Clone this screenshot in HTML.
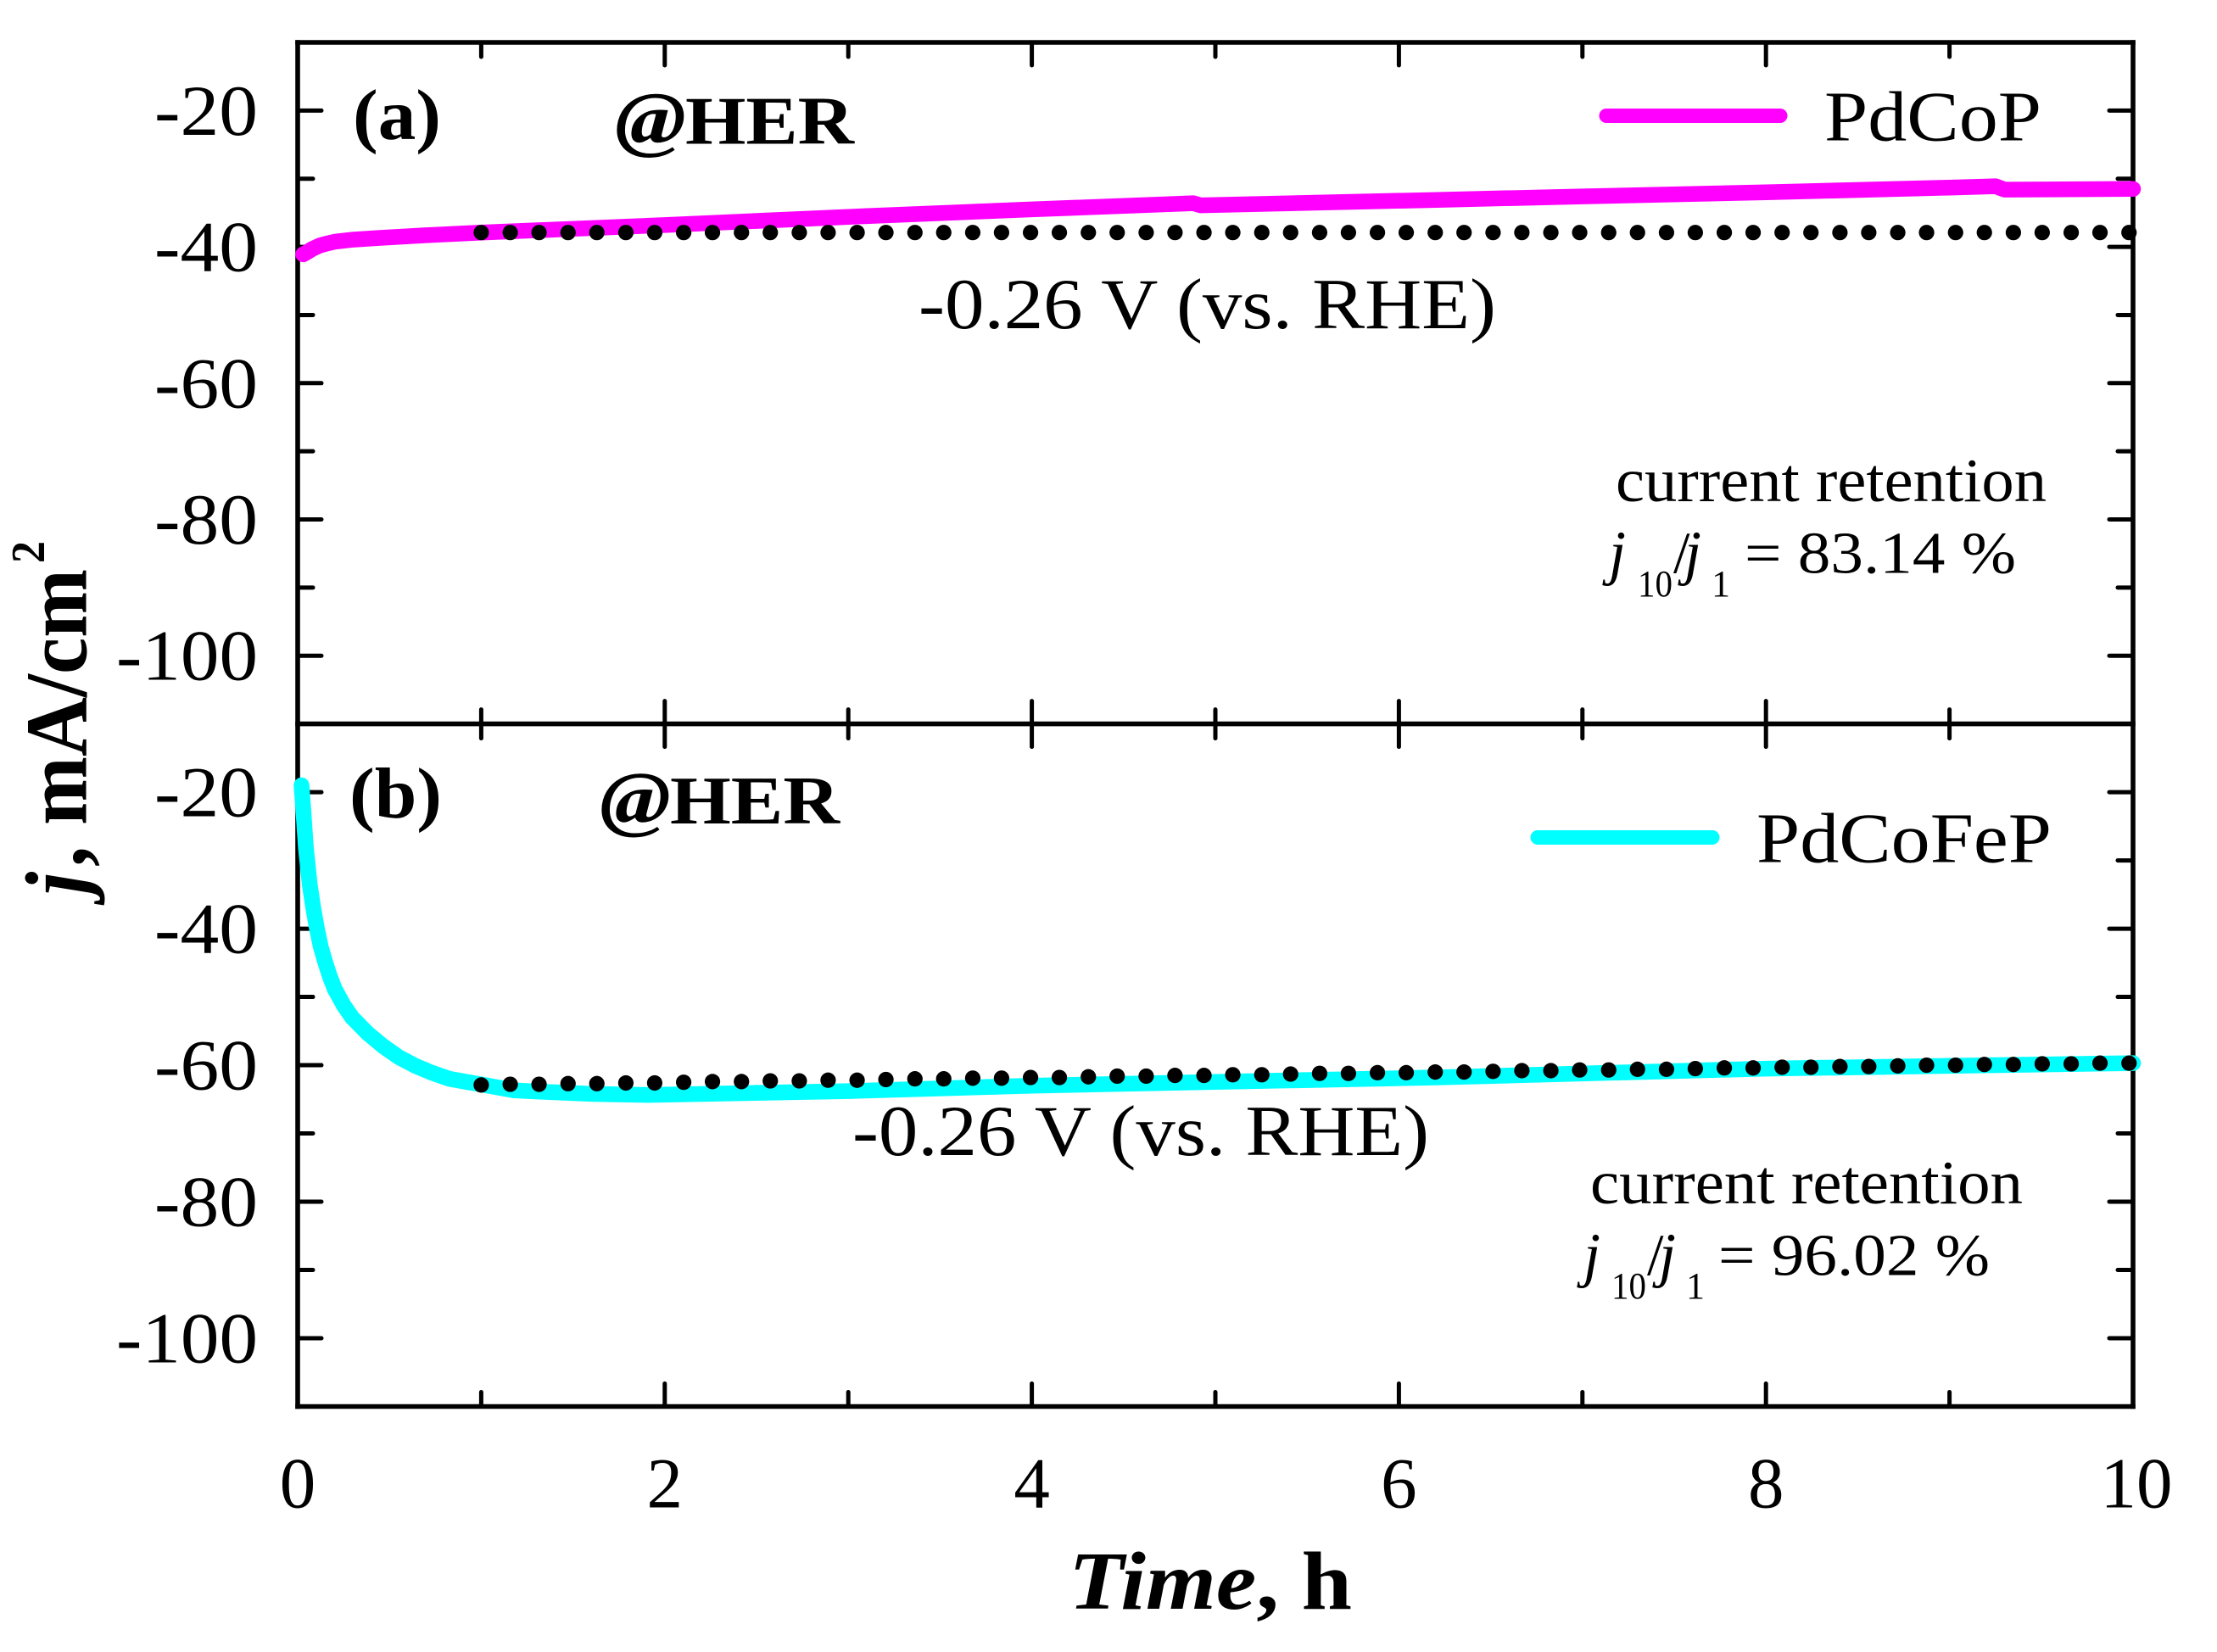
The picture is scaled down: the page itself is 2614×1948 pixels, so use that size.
<!DOCTYPE html>
<html lang="en">
<head>
<meta charset="utf-8">
<title>Chronoamperometry of PdCoP and PdCoFeP</title>
<style>
html,body{margin:0;padding:0;background:#fff;}
svg{display:block;}
text{font-family:"Liberation Serif","Times New Roman",serif;fill:#000;}
</style>
</head>
<body>
<svg id="chart" xmlns="http://www.w3.org/2000/svg" width="2614" height="1948" viewBox="0 0 2614 1948">
  <rect x="0" y="0" width="2614" height="1948" fill="#fff"/>
  <g id="axes"></g>
  <g id="series"></g>

  <!-- panel a annotations -->
  <text x="416" y="164" font-size="85" font-weight="bold" textLength="104" lengthAdjust="spacingAndGlyphs">(a)</text>
  <g>
    <text x="725" y="169.5" font-size="88" font-weight="bold" font-style="italic" textLength="84" lengthAdjust="spacingAndGlyphs">@</text>
    <text x="808" y="169.5" font-size="80" font-weight="bold" textLength="199" lengthAdjust="spacingAndGlyphs">HER</text>
  </g>
  <line x1="1894" y1="136.5" x2="2099" y2="136.5" stroke="#ff00ff" stroke-width="17" stroke-linecap="round"/>
  <text x="2151" y="165.5" font-size="84" textLength="256" lengthAdjust="spacingAndGlyphs">PdCoP</text>
  <text x="1083" y="387" font-size="85" textLength="681" lengthAdjust="spacingAndGlyphs">-0.26 V (vs. RHE)</text>
  <text x="1905" y="591" font-size="73" textLength="508" lengthAdjust="spacingAndGlyphs">current retention</text>
  <g>
    <text x="1897" y="675.5" font-size="72" font-style="italic">j</text>
    <text x="1931" y="703" font-size="44" textLength="41" lengthAdjust="spacingAndGlyphs">10</text>
    <text x="1973" y="675.5" font-size="70">/</text>
    <text x="1986" y="675.5" font-size="72" font-style="italic">j</text>
    <text x="2018" y="703" font-size="44">1</text>
    <text x="2057" y="675.5" font-size="70" textLength="320" lengthAdjust="spacingAndGlyphs">= 83.14 %</text>
  </g>

  <!-- panel b annotations -->
  <text x="412" y="964" font-size="85" font-weight="bold" textLength="109" lengthAdjust="spacingAndGlyphs">(b)</text>
  <g>
    <text x="707" y="971" font-size="88" font-weight="bold" font-style="italic" textLength="84" lengthAdjust="spacingAndGlyphs">@</text>
    <text x="790" y="971" font-size="80" font-weight="bold" textLength="200" lengthAdjust="spacingAndGlyphs">HER</text>
  </g>
  <line x1="1813" y1="987.5" x2="2019" y2="987.5" stroke="#00ffff" stroke-width="17" stroke-linecap="round"/>
  <text x="2071" y="1016.5" font-size="84" textLength="348" lengthAdjust="spacingAndGlyphs">PdCoFeP</text>
  <text x="1005" y="1362" font-size="85" textLength="680" lengthAdjust="spacingAndGlyphs">-0.26 V (vs. RHE)</text>
  <text x="1875" y="1419" font-size="73" textLength="510" lengthAdjust="spacingAndGlyphs">current retention</text>
  <g>
    <text x="1867" y="1503.5" font-size="72" font-style="italic">j</text>
    <text x="1900" y="1531" font-size="44" textLength="41" lengthAdjust="spacingAndGlyphs">10</text>
    <text x="1942" y="1503.5" font-size="70">/</text>
    <text x="1956" y="1503.5" font-size="72" font-style="italic">j</text>
    <text x="1988" y="1531" font-size="44">1</text>
    <text x="2026" y="1503.5" font-size="70" textLength="320" lengthAdjust="spacingAndGlyphs">= 96.02 %</text>
  </g>

  <!-- axis titles -->
  <text x="1260" y="1897" font-size="97" font-weight="bold" textLength="334" lengthAdjust="spacingAndGlyphs"><tspan font-style="italic">Time</tspan>, h</text>
  <g transform="translate(101.5,1065) rotate(-90) scale(1,1.08)">
    <text x="10" y="0" font-size="96" font-weight="bold" font-style="italic">j</text>
    <text x="43" y="0" font-size="96" font-weight="bold">,</text>
    <text x="92" y="0" font-size="96" font-weight="bold" textLength="302" lengthAdjust="spacingAndGlyphs">mA/cm</text>
    <text x="401" y="-46" font-size="52" font-weight="bold">2</text>
  </g>
</svg>

<script>
// ---- chart data ----
const xMajorTicks = [2, 4, 6, 8];
const xMinorTicks = [1, 3, 5, 7, 9];
const xTickLabels = [0, 2, 4, 6, 8, 10];
const yMajorTicks = [-20, -40, -60, -80, -100];
const yMinorTicks = [-30, -50, -70, -90];

const pdcopTime = [0.03, 0.05, 0.08, 0.12, 0.16, 0.2, 0.3, 0.44, 0.7, 1, 2, 3, 4, 4.88, 4.92, 6.23, 7, 8, 9, 9.25, 9.3, 10];
const pdcopCurrent = [-41.1, -40.8, -40.3, -39.8, -39.5, -39.25, -38.95, -38.7, -38.3, -37.9, -36.8, -35.6, -34.5, -33.6, -33.9, -33.1, -32.6, -32.0, -31.3, -31.1, -31.6, -31.5];

const pdcofepTime = [0.021, 0.03, 0.045, 0.066, 0.085, 0.105, 0.125, 0.149, 0.175, 0.203, 0.25, 0.296, 0.38, 0.465, 0.55, 0.642, 0.73, 0.827, 0.91, 0.997, 1.18, 1.335, 1.6, 1.91, 3, 4, 6.2, 8, 10];
const pdcofepCurrent = [-19, -22.4, -28.2, -33.6, -37, -40, -42.6, -44.8, -47, -48.9, -51.2, -53, -55.3, -57.2, -58.8, -60.1, -61.1, -62, -62.4, -62.8, -63.7, -63.9, -64.2, -64.35, -63.8, -63, -61.8, -60.5, -59.7];

const dotTime = [1.00,1.158,1.315,1.473,1.63,1.788,1.945,2.103,2.26,2.418,2.575,2.733,2.89,3.048,3.205,3.363,3.52,3.678,3.835,3.993,4.15,4.308,4.465,4.623,4.78,4.938,5.095,5.253,5.41,5.568,5.725,5.883,6.04,6.198,6.355,6.513,6.67,6.828,6.985,7.143,7.3,7.458,7.615,7.773,7.93,8.088,8.245,8.403,8.56,8.718,8.875,9.033,9.19,9.348,9.505,9.663,9.82,9.978];
const dotCurrentA = [-37.9,-37.9,-37.9,-37.9,-37.9,-37.9,-37.9,-37.9,-37.9,-37.9,-37.9,-37.9,-37.9,-37.9,-37.9,-37.9,-37.9,-37.9,-37.9,-37.9,-37.9,-37.9,-37.9,-37.9,-37.9,-37.9,-37.9,-37.9,-37.9,-37.9,-37.9,-37.9,-37.9,-37.9,-37.9,-37.9,-37.9,-37.9,-37.9,-37.9,-37.9,-37.9,-37.9,-37.9,-37.9,-37.9,-37.9,-37.9,-37.9,-37.9,-37.9,-37.9,-37.9,-37.9,-37.9,-37.9,-37.9,-37.9];
const dotCurrentB = [-62.9,-62.8,-62.8,-62.7,-62.7,-62.6,-62.6,-62.5,-62.4,-62.4,-62.3,-62.3,-62.2,-62.2,-62.1,-62.0,-62.0,-61.9,-61.9,-61.8,-61.8,-61.7,-61.6,-61.6,-61.5,-61.5,-61.4,-61.4,-61.3,-61.2,-61.2,-61.1,-61.1,-61.0,-61.0,-60.9,-60.8,-60.8,-60.7,-60.7,-60.6,-60.6,-60.5,-60.4,-60.4,-60.3,-60.3,-60.2,-60.2,-60.1,-60.0,-60.0,-59.9,-59.9,-59.8,-59.8,-59.7,-59.7];

// ---- scales ----
const NS = 'http://www.w3.org/2000/svg';
const LEFT = 351, RIGHT = 2515, TOP_A = 50, MID = 853.6, BOTTOM = 1658.5;
const xScale = t => LEFT + (t / 10) * (RIGHT - LEFT);
const yScaleA = v => TOP_A + ((-10 - v) / 100) * (MID - TOP_A);
const yScaleB = v => MID + ((-10 - v) / 100) * (BOTTOM - MID);

const axes = document.getElementById('axes');
const series = document.getElementById('series');

function make(tag, parent, attrs) {
  const el = document.createElementNS(NS, tag);
  for (const k in attrs) el.setAttribute(k, attrs[k]);
  parent.appendChild(el);
  return el;
}

function drawTick(x1, y1, x2, y2) {
  const tick = make('line', axes, {x1: x1, y1: y1, x2: x2, y2: y2, stroke: '#000', 'stroke-width': 5, 'stroke-linecap': 'round'});
  
  
}

// ---- frame ----
[[LEFT, TOP_A, RIGHT, TOP_A], [LEFT, MID, RIGHT, MID], [LEFT, BOTTOM, RIGHT, BOTTOM], [LEFT, TOP_A, LEFT, BOTTOM], [RIGHT, TOP_A, RIGHT, BOTTOM]].forEach(s => {
  const spine = make('line', axes, {x1: s[0], y1: s[1], x2: s[2], y2: s[3], stroke: '#000', 'stroke-width': 5.6, 'stroke-linecap': 'square'});
  
  
});

// ---- x ticks on all horizontal spines ----
function drawXTicks(list, len) {
  list.forEach(t => {
    const x = xScale(t);
    drawTick(x, TOP_A, x, TOP_A + len);
    drawTick(x, MID, x, MID - len);
    drawTick(x, MID, x, MID + len);
    drawTick(x, BOTTOM, x, BOTTOM - len);
  });
}
drawXTicks(xMajorTicks, 27);
drawXTicks(xMinorTicks, 17);

// ---- y ticks on both sides ----
function drawYTicks(list, len, yScale) {
  list.forEach(v => {
    const y = yScale(v);
    drawTick(LEFT, y, LEFT + len, y);
    drawTick(RIGHT, y, RIGHT - len, y);
  });
}
[yScaleA, yScaleB].forEach(scale => {
  drawYTicks(yMajorTicks, 28, scale);
  drawYTicks(yMinorTicks, 18, scale);
});

// ---- tick labels ----
[yScaleA, yScaleB].forEach(scale => {
  yMajorTicks.forEach(v => {
    const s = String(v);
    const label = make('text', axes, {x: 304, y: scale(v) + 28.5, 'font-size': 85, 'text-anchor': 'end', textLength: s.length === 3 ? 122 : 167, lengthAdjust: 'spacingAndGlyphs'});
    
    
    label.textContent = s;
  });
});
xTickLabels.forEach(t => {
  const label = make('text', axes, {x: xScale(t) + (t === 10 ? 4 : 0), y: 1777.5, 'font-size': 85, 'text-anchor': 'middle'});
  
  
  label.textContent = t;
});

// ---- series ----
function drawCurve(times, values, yScale, color, name) {
  const pts = times.map((t, i) => xScale(t).toFixed(1) + ',' + yScale(values[i]).toFixed(1)).join(' ');
  const curve = make('polyline', series, {points: pts, fill: 'none', stroke: color, 'stroke-width': 18.5, 'stroke-linecap': 'round', 'stroke-linejoin': 'round'});
  
  
}
drawCurve(pdcopTime, pdcopCurrent, yScaleA, '#ff00ff', 'pdcop-line');
drawCurve(pdcofepTime, pdcofepCurrent, yScaleB, '#00ffff', 'pdcofep-line');

function drawDots(times, values, yScale, name) {
  times.forEach((t, i) => {
    const dot = make('circle', series, {cx: xScale(t), cy: yScale(values[i]), r: 9.1, fill: '#000'});
    
    
  });
}
drawDots(dotTime, dotCurrentA, yScaleA, 'reference-dot-a');
drawDots(dotTime, dotCurrentB, yScaleB, 'reference-dot-b');
</script>
</body>
</html>
